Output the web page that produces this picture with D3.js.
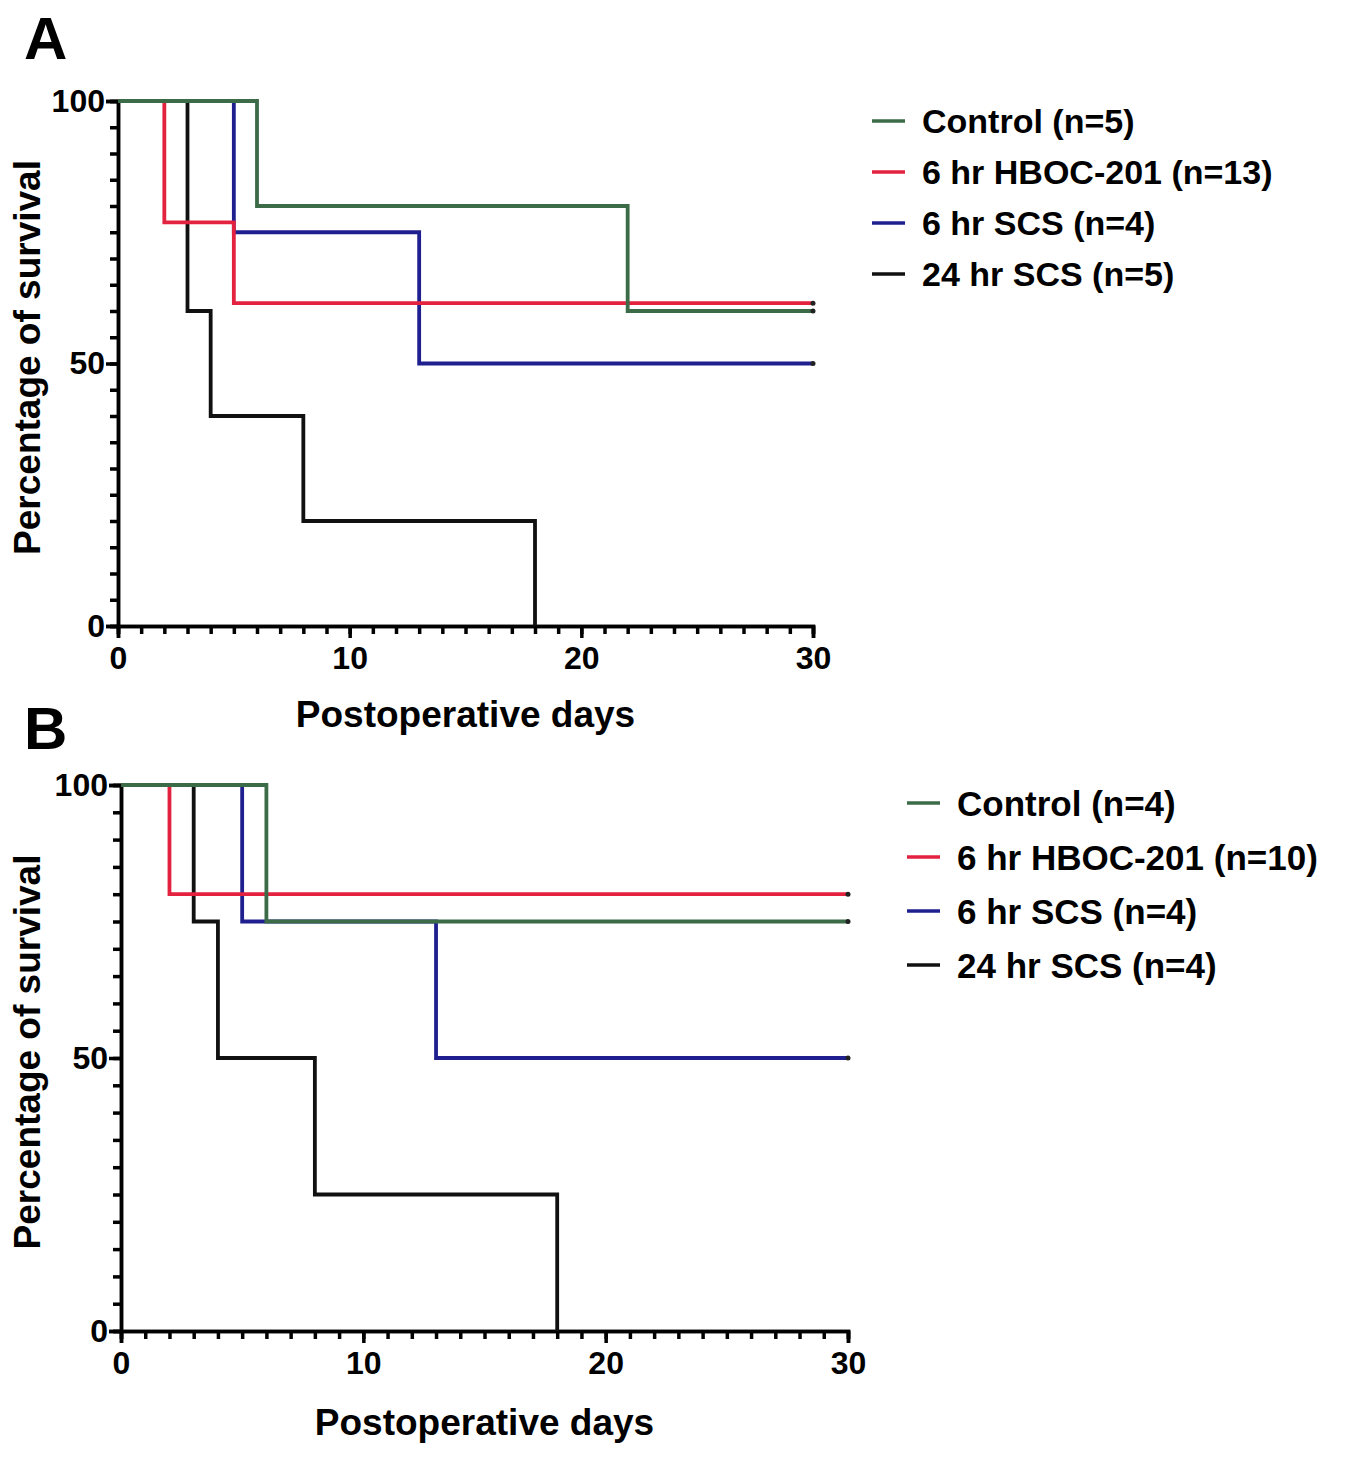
<!DOCTYPE html>
<html><head><meta charset="utf-8">
<script src="https://cdn.jsdelivr.net/npm/d3@7"></script>
<style>body{margin:0;background:#fff;} svg{display:block;font-family:"Liberation Sans",Arial,sans-serif;font-weight:bold;}</style>
</head><body>
<svg id="chart" width="1345" height="1469"></svg>
<script>
// ---- data ----
const seriesNames = ["Control", "6 hr HBOC-201", "6 hr SCS", "24 hr SCS"];
const seriesColors = ["#3b6b47", "#e3223f", "#1f1f8f", "#111111"];
const nA = [5, 13, 4, 5];
const nB = [4, 10, 4, 4];
// panel A survival steps (day, percent)
const A_controlDays = [0, 6, 22, 30];
const A_controlSurv = [100, 80, 60, 60];
const A_hbocDays = [0, 2, 5, 30];
const A_hbocSurv = [100, 76.9, 61.5, 61.5];
const A_scs6Days = [0, 5, 13, 30];
const A_scs6Surv = [100, 75, 50, 50];
const A_scs24Days = [0, 3, 4, 8, 18];
const A_scs24Surv = [100, 60, 40, 20, 0];
// panel B
const B_controlDays = [0, 6, 30];
const B_controlSurv = [100, 75, 75];
const B_hbocDays = [0, 2, 30];
const B_hbocSurv = [100, 80, 80];
const B_scs6Days = [0, 5, 13, 30];
const B_scs6Surv = [100, 75, 50, 50];
const B_scs24Days = [0, 3, 4, 8, 18];
const B_scs24Surv = [100, 75, 50, 25, 0];
const xMajorTicks = [0, 10, 20, 30];
const yMajorTicks = [0, 50, 100];

const svg = d3.select("#chart");

function zip(d, s){ return d.map((v,i)=>({t:v, s:s[i]})); }

function panel(cfg){
  const g = svg.append("g");
  const x = d3.scaleLinear().domain([0,30]).range([cfg.x0, cfg.x1]);
  const y = d3.scaleLinear().domain([0,100]).range([cfg.y0, cfg.y1]);
  // panel letter
  g.append("text").attr("x", cfg.letterX).attr("y", cfg.letterY).attr("font-size", 60).text(cfg.letter);
  // x axis
  const xa = g.append("g").attr("transform", `translate(0,${cfg.y0})`);
  xa.call(d3.axisBottom(x).tickValues(d3.range(0,31,1)).tickSize(8).tickFormat(""));
  xa.append("g").call(d3.axisBottom(x).tickValues(xMajorTicks).tickSize(12).tickFormat(d3.format("d")).tickPadding(8));
  xa.selectAll("path").attr("stroke-width", 3.5);
  xa.selectAll("line").attr("stroke-width", 3.5);
  xa.selectAll("text").attr("font-size", 32).attr("font-family","Liberation Sans, Arial").attr("font-weight","bold").attr("fill","#000");
  // y axis
  const ya = g.append("g").attr("transform", `translate(${cfg.x0},0)`);
  ya.call(d3.axisLeft(y).tickValues(d3.range(0,101,5)).tickSize(8).tickFormat(""));
  ya.append("g").call(d3.axisLeft(y).tickValues(yMajorTicks).tickSize(12).tickFormat(d3.format("d")).tickPadding(1));
  ya.selectAll("path").attr("stroke-width", 3.5);
  ya.selectAll("line").attr("stroke-width", 3.5);
  ya.selectAll("text").attr("font-size", 32).attr("font-family","Liberation Sans, Arial").attr("font-weight","bold").attr("fill","#000");
  g.selectAll(".domain").attr("stroke","#000");
  // axis titles
  g.append("text").attr("x", (cfg.x0+cfg.x1)/2).attr("y", cfg.xTitleY).attr("text-anchor","middle").attr("font-size", 37).text("Postoperative days");
  g.append("text").attr("transform", `translate(${cfg.yTitleX},${(cfg.y0+cfg.y1)/2 - 6}) rotate(-90)`).attr("text-anchor","middle").attr("font-size", 37).text("Percentage of survival");
  // curves
  const line = d3.line().x(d=>x(d.t)).y(d=>y(d.s)).curve(d3.curveStepAfter);
  const order = [3,2,1,0];
  order.forEach(i=>{
    const data = cfg.series[i];
    g.append("path").datum(data).attr("d", line).attr("fill","none")
      .attr("stroke", seriesColors[i]).attr("stroke-width", 3.8).attr("stroke-linejoin","miter");
    const last = data[data.length-1];
    if (last.s > 0) {
      g.append("circle").attr("cx", x(last.t)).attr("cy", y(last.s)).attr("r", 2.5).attr("fill", "#222");
    }
  });
  // legend
  const lg = g.append("g");
  seriesNames.forEach((name,i)=>{
    const yy = cfg.legY + i*cfg.legStep;
    lg.append("line").attr("x1", cfg.legX).attr("x2", cfg.legX+33).attr("y1", yy).attr("y2", yy)
      .attr("stroke", seriesColors[i]).attr("stroke-width", 3.5);
    lg.append("text").attr("x", cfg.legX+50).attr("y", yy).attr("dy","0.36em").attr("font-size", cfg.legFont)
      .text(`${name} (n=${cfg.n[i]})`);
  });
}

panel({
  letter:"A", letterX:24, letterY:59,
  x0:118, x1:813, y0:626, y1:101,
  xTitleY:727, yTitleX:40,
  legX:872, legY:121, legStep:51, legFont:34, n:nA,
  series:[zip(A_controlDays,A_controlSurv), zip(A_hbocDays,A_hbocSurv), zip(A_scs6Days,A_scs6Surv), zip(A_scs24Days,A_scs24Surv)]
});
panel({
  letter:"B", letterX:24, letterY:749,
  x0:121, x1:848, y0:1331, y1:785,
  xTitleY:1435, yTitleX:40,
  legX:907, legY:803, legStep:54, legFont:35, n:nB,
  series:[zip(B_controlDays,B_controlSurv), zip(B_hbocDays,B_hbocSurv), zip(B_scs6Days,B_scs6Surv), zip(B_scs24Days,B_scs24Surv)]
});
</script>
</body></html>
